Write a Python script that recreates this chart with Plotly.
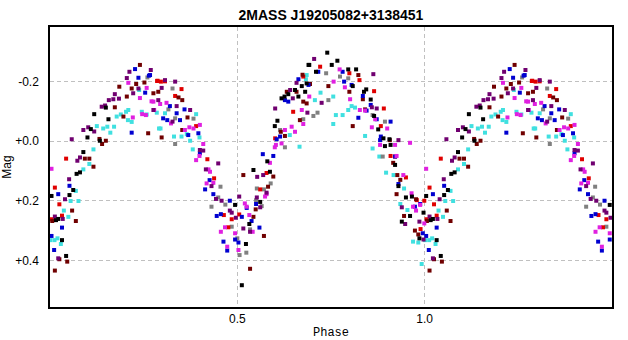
import plotly.graph_objects as go

# Phased light curve data (phase in [0,1), magnitude); phases < 0.5 are repeated at +1
red_ph = [.043, .286, .013, .025, .032, .005, .287, .296, .307, .351, .334, .39, .42, .438, .601, .649, .676,
          .464, .485, .476, .505, .561, .578, .721, .799, .826, .865, .891, .883, .909, .921, .95, .979, .999, .989]
red_mag = [.059, -.201, .156, .212, .25, .262, -.202, -.199, -.2, -.174, -.151, -.05, .061, .125, -.009, -.098, -.216,
           .248, .262, .289, .246, .162, .107, -.249, -.227, -.204, -.167, -.109, -.05, .05, .052, .122, .198, .2, .295]

darkred_ph = [.093, .105, .116, .132, .139, .149, .173, .196, .185, .205, .218, .23, .24, .252, .262,
              .059, .006, .069, .025, .046, .013,
              .276, .289, .343, .353, .367, .298, .353, .516, .596, .616, .627, .667, .685, .658, .632, .676,
              .534, .571, .582, .549, .543,
              .674, .694, .743, .823, .799, .808, .841, .835, .907, .916, .927,
              .935, .925, .945, .974, .983, .977]
darkred_mag = [.059, .059, .086, -.007, .01, -.001, -.113, -.082, -.182, -.149, -.176, -.191, -.255, -.196, -.026,
               .233, .268, .268, .396, .404, .434,
               -.16, -.165, -.146, -.137, -.079, -.012, -.037, .114, .119, -.031, -.017, -.07, -.126, -.165, -.165, -.132,
               .428, .318, .153, .229, .254,
               -.222, -.191, -.184, -.221, -.165, -.05, -.106, -.14, -.003, .073, .114,
               .13, .178, .251, .3, .313, .195]

black_ph = [.1, .071, .08, .089, .109, .133, .118, .156, .149,
            .062, .052, .004, .022, .016, .032, .043,
            .543, .58, .587, .6, .607, .618, .626, .636, .654, .663, .681, .685, .69, .672,
            .494, .532, .523, .512, .561,
            .74, .692, .767, .752, .71, .796, .817, .808, .844, .838, .856, .865, .876, .89, .906, .909, .921, .894,
            .93, .95, .961, .939, .966, .997, .986]
black_mag = [-.012, .11, .105, .037, -.04, -.001, -.09, -.073, -.112,
             .164, .181, .184, .261, .265, .332, .385,
             .097, .068, .103, -.05, -.068, -.143, -.149, -.157, -.171, -.149, -.165, -.193, -.255, -.184,
             .214, .278, .345, .483, .204,
             -.296, -.255, -.269, -.255, -.232, -.24, -.24, -.184, -.173, -.165, -.139, -.084, -.039, -.009, -.006, .013, .08, .017,
             .151, .189, .251, .27, .186, .24, .326]

blue_ph = [.218, .227, .236, .254, .264,
           .052, .022, .032, .011, .004,
           .267, .32, .338, .359, .302, .313, .347, .369, .396, .4, .568, .596, .627, .636, .663, .69, .605, .614,
           .426, .414, .436, .445, .456, .463, .473, .494, .503, .48, .512, .525, .538, .55, .559,
           .716, .781, .785, .805, .835, .856, .845, .823, .872, .909, .883, .881, .921,
           .93, .988, .995, .974]
blue_mag = [-.028, -.241, -.212, -.162, -.219,
            .15, .178, .29, .365, .318,
            -.221, -.117, -.093, -.106, -.076, -.07, -.07, -.02, -.026, .041, .044, .05, -.137, -.132, -.207, -.188, -.006, -.015,
            .131, .162, .178, .251, .245, .337, .367, .33, .34, .2, .254, .224, .268, .211, .29,
            -.232, -.232, -.199, -.188, -.151, -.121, -.102, -.078, -.073, -.065, -.015, -.003, .052,
            .144, .211, .309, .22]

cyan_ph = [.089, .105, .116, .125, .142, .153, .171, .161, .178, .189, .203, .209, .208, .218, .238, .245, .258, .291,
           .069, .055, .076, .037, .049, .012, .02, .029, .001,
           .285, .307, .295, .39, .331, .351, .365, .374, .381, .399, .64, .666, .685,
           .683, .707, .722, .756, .805, .814, .796, .763, .781, .756, .841, .861, .879, .897, .917,
           .935, .945, .954, .969, .983, .992]
cyan_mag = [.095, .077, .028, -.05, -.042, -.048, -.048, -.028, -.082, -.089, -.098, -.104, -.07, -.064, -.171, -.098, -.089, -.042,
            .167, .201, .201, .233, .254, .332, .326, .345, .332,
            -.095, -.093, -.042, -.09, -.015, -.015, -.023, -.001, .028, -.012, -.02, .019, -.221,
            -.207, -.137, -.162, -.149, -.117, -.112, -.104, -.087, -.087, -.057, -.017, .025, .052, .106, .114,
            .211, .159, .231, .337, .34, .412]

magenta_ph = [.004, .221, .209, .24, .258, .246, .256, .271, .278,
              .276, .294, .311, .323, .372, .383, .36, .4, .39, .399, .423, .409,
              .587, .603, .627, .6, .618, .645, .654, .676, .672,
              .427, .418, .436, .456, .467, .473, .494, .503, .52, .525, .532, .574, .578, .541,
              .757, .773, .787, .801, .827, .841, .868, .859, .9, .921, .881, .925, .943, .961, .692,
              .965, .977, .988, .999, .969]
magenta_mag = [.093, -.079, -.195, -.144, -.178, -.09, -.087, -.133, -.104,
               -.132, -.124, -.128, -.059, -.046, -.042, -.037, -.054, .064, .05, .095, .01,
               .073, .013, -.037, .021, .008, -.048, -.031, -.057, -.104,
               .103, .142, .14, .304, .289, .354, .309, .365, .209, .22, .248, .186, .178, .304,
               -.199, -.24, -.18, -.14, -.104, -.102, -.073, -.046, -.042, .013, .013, .05, .114, .006, -.149,
               .175, .233, .214, .276, .22]

purple_ph = [.058, .051, .08, .073, .089, .102, .118, .138, .147, .157, .169, .184, .173, .205, .212, .222, .236,
             .04, .013, .034, .022,
             .269, .307, .334, .298, .289, .276, .338, .374, .327, .4, .409, .449, .416, .569, .601, .658, .641, .648,
             .431, .443, .458, .48, .505, .496, .485, .516, .534, .553, .552, .561, .578,
             .705, .863, .725, .687, .859, .872, .93,
             .939, .948, .986, .997]
purple_mag = [-.006, .128, .055, .066, -.037, -.046, -.032, -.115, -.119, -.137, -.14, -.142, -.157, -.211, -.232, -.16, -.176,
              .195, .253, .261, .393,
              -.238, -.204, -.199, -.178, -.137, -.104, -.117, -.104, -.065, .03, .032, .075, .095, .114, -.109, -.195, -.171, -.143,
              .151, .194, .2, .233, .186, .257, .24, .293, .304, .12, .189, .222, .173,
              -.275, -.224, -.128, -.095, -.113, -.109, -.003,
              .222, .278, .27, .33]

gray_ph = [.26, .327, .316, .334, .383, .334,
           .455, .449, .431, .485, .5, .524, .506, .552, .571, .589, .565, .534, .55, .468,
           .614, .627, .676,
           .737, .774, .796, .743, .714, .703, .861, .894, .888]
gray_mag = [-.213, -.176, -.106, -.076, -.075, .01,
            .153, .189, .22, .287, .326, .374, .382, .159, .162, .142, .218, .296, .198, .213,
            -.037, .021, -.073,
            -.227, -.216, -.21, -.137, -.095, -.084, -.087, -.065, .052]

series = [
    ("cyan", "#40e0e0", cyan_ph, cyan_mag),
    ("gray", "#808080", gray_ph, gray_mag),
    ("red", "#e00000", red_ph, red_mag),
    ("darkred", "#700000", darkred_ph, darkred_mag),
    ("blue", "#0000d0", blue_ph, blue_mag),
    ("magenta", "#e020e0", magenta_ph, magenta_mag),
    ("purple", "#700070", purple_ph, purple_mag),
    ("black", "#000000", black_ph, black_mag),
]

x_ticks = [0.5, 1.0]
x_ticktext = ["0.5", "1.0"]
y_ticks = [-0.2, 0.0, 0.2, 0.4]
y_ticktext = ["-0.2", "+0.0", "+0.2", "+0.4"]

fig = go.Figure()
for name, color, ph, mag in series:
    xs = list(ph) + [p + 1 for p in ph if p < 0.5]
    ys = list(mag) + [m for p, m in zip(ph, mag) if p < 0.5]
    fig.add_trace(go.Scatter(x=xs, y=ys, mode="markers", name=name,
                             marker=dict(symbol="square", size=4, color=color, line=dict(width=0)),
                             showlegend=False, cliponaxis=True))

fig.update_layout(
    width=628, height=340,
    margin=dict(l=50, r=16, t=27, b=33, autoexpand=False),
    paper_bgcolor="white", plot_bgcolor="white",
    title=dict(text="<b>2MASS J19205082+3138451</b>", x=0.527, xanchor="center",
               y=1 - 15 / 340, yanchor="middle", yref="container",
               font=dict(family="Liberation Sans, Arial", size=14, color="black")),
    font=dict(family="Liberation Sans, Arial", size=11, color="black"),
)
fig.update_xaxes(range=[0, 1.5], tickvals=x_ticks, ticktext=x_ticktext, ticks="",
                 showgrid=True, gridcolor="#c0c0c0", griddash="4px,3px", gridwidth=1,
                 showline=True, linecolor="black", linewidth=1.5, mirror=True, zeroline=False,
                 tickfont=dict(size=12), automargin=False,
                 title=dict(text="Phase", standoff=2,
                            font=dict(family="Liberation Mono, Courier New", size=12)))
fig.update_yaxes(range=[0.556, -0.382], tickvals=y_ticks, ticktext=y_ticktext, ticks="",
                 showgrid=True, gridcolor="#c0c0c0", griddash="4px,3px", gridwidth=1,
                 showline=True, linecolor="black", linewidth=1.5, mirror=True, zeroline=False,
                 tickfont=dict(size=12), ticklabelstandoff=7, automargin=False,
                 title=dict(text="Mag", standoff=6, font=dict(size=12)))

fig.write_html("out.html")
